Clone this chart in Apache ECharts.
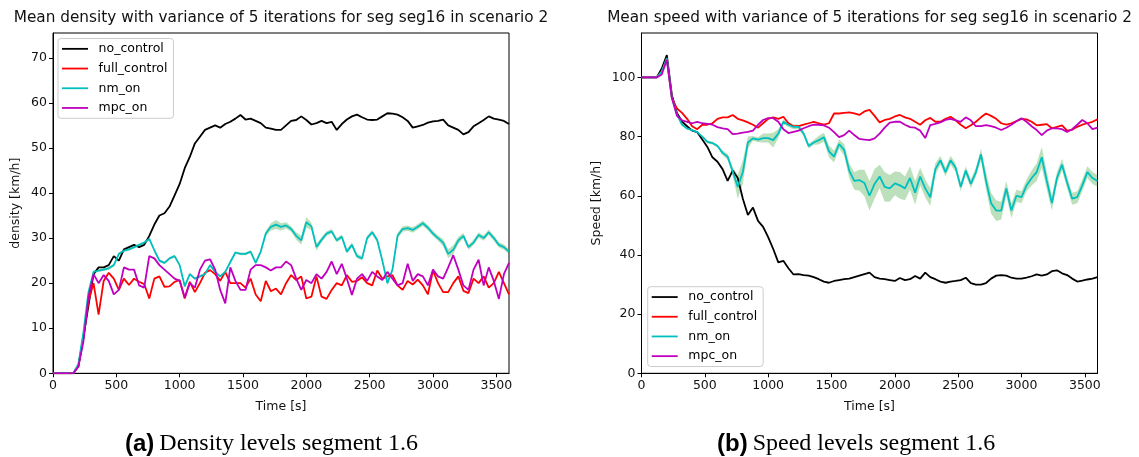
<!DOCTYPE html>
<html><head><meta charset="utf-8">
<script src="https://cdn.jsdelivr.net/npm/echarts@6/dist/echarts.min.js"></script>
<style>html,body{margin:0;padding:0;background:#fff}#c{width:1139px;height:457px}</style>
</head><body><div id="c"></div>
<script>
const TIMES = [0,40,80,120,160,200,240,280,320,360,
400,440,480,520,560,600,640,680,720,760,
800,840,880,920,960,1000,1040,1080,1120,1160,
1200,1240,1280,1320,1360,1400,1440,1480,1520,1560,
1600,1640,1680,1720,1760,1800,1840,1880,1920,1960,
2000,2040,2080,2120,2160,2200,2240,2280,2320,2360,
2400,2440,2480,2520,2560,2600,2640,2680,2720,2760,
2800,2840,2880,2920,2960,3000,3040,3080,3120,3160,
3200,3240,3280,3320,3360,3400,3440,3480,3520,3560,
3600];
const SERIES_NAMES = ['no_control','full_control','nm_on','mpc_on'];
const X_TICKS = [0,500,1000,1500,2000,2500,3000,3500];
const DEN_TICKS = [0,10,20,30,40,50,60,70];
const SPD_TICKS = [0,20,40,60,80,100];

// Density
const DEN_NO = [0,0,0,0,0,1.5,8,15,22,23.5,
23.5,24,26,25,27.5,28,28.5,28,28.5,30.5,
33,35,35.5,37,39.5,42,45.5,48,51,52.5,
54,54.5,55,54.5,55.3,55.8,56.5,57.3,56.3,56.5,
56,55.5,54.5,54.3,54,54,55,56,56.2,57,
56.2,55.2,55.5,56,55.5,55.8,54,55.3,56.3,57,
57.4,56.8,56.3,56.2,56.3,57,57.7,57.6,57.4,56.8,
56,54.5,54.8,55.1,55.6,55.9,56,56.3,55,54.5,
54,53,53.5,54.8,55.5,56.2,57,56.5,56.3,56,
55.3];
const DEN_FULL = [0,0,0,0,0,1.5,8,16,20,13,
20.5,22.3,21,18.5,21,19.6,21,20.3,19.8,16.6,
21,21.5,19.2,19.3,20.3,20.7,16.6,20.3,18,20,
22.3,22.9,22,20.5,22.5,20,20,20,19,21,
17.5,16,20.5,18.2,18.8,17.5,20,21.8,20.7,21.5,
16.6,17,21.5,17,16.5,18.5,20,19.5,21.8,20.3,
20.5,21.3,20,19.5,22.8,21,21.5,21.8,19.5,18.5,
20.5,19.7,20.8,19.5,17.5,22.8,20,18,18,20,
21.5,18.3,17.8,21,20,21.5,19,20,22.5,20,
17.5];
const DEN_NM = [0,0,0,0,0,2,9,18,22.5,22.8,
23,23.3,24,26.5,27.2,27.5,28,28.5,29,29.8,
27.3,25,24.5,25.5,26,24,19.3,22,21,21.5,
22,24,22.5,21.5,22.5,24.7,26.8,26.5,26.5,27,
24.5,27,31,32.5,33,32.5,32.8,32,30.5,29.5,
33.5,32.6,28,29.6,31,31.5,29.5,30.3,27,28.5,
26,25.5,30,31.3,29.5,25,20,23,30.5,32,
32.2,31.8,32.5,33.3,32.3,31,30,29,26.5,27.4,
29.5,30.5,28,29,30.7,30,31.3,30,28.5,28,
27];
const DEN_MPC = [0,0,0,0,0,1.5,7,17,22,20,
21.8,20.5,17.5,18.5,23.5,23,23,19.5,19,26,
25.5,24,23,22,21,20.5,16.8,20,19,23,
25,25.3,23,18.5,15.5,23.5,20.5,18.5,18.5,23,
24,24,23.5,22.8,23.5,23.5,24.8,24,21,18.5,
20.7,20,22,21,22.5,24.8,22,24.3,21,17.4,
21,22,20.5,22.5,21.5,20.7,22.5,21,19.5,20,
24.3,20.5,22,21.5,19.5,23,21.5,21,23.5,26.2,
23,19.5,18.5,23,25.2,19.5,23.5,20.5,16.5,22,
24.5];
const DEN_NM_SPREAD = [0,0,0,0,0,0.2,0.3,0.3,0.3,0.3,
0.3,0.3,0.3,0.3,0.3,0.3,0.3,0.3,0.3,0.3,
0.3,0.3,0.3,0.3,0.3,0.3,0.3,0.3,0.3,0.3,
0.3,0.3,0.3,0.3,0.3,0.3,0.3,0.3,0.3,0.3,
0.4,0.5,0.6,0.8,1,0.8,0.7,0.6,0.8,1,
1.2,0.8,0.8,0.6,0.5,0.5,0.5,0.5,0.5,0.5,
0.5,0.5,0.5,0.5,0.5,0.5,0.5,0.5,0.6,0.6,
0.6,0.6,0.6,0.6,0.6,0.6,0.6,0.8,1,1,
0.8,0.6,0.6,0.6,0.6,0.6,0.6,0.6,0.6,0.6,
0.6];

// Speed
const SPD_NO = [100,100,100,100,103,107.5,94,88,85,83.5,
82,81.5,79,76.5,73,71.5,69,65,68.5,66,
59,53.5,56,51.5,49.5,46,42,37.5,38,35.5,
33.4,33.5,33.2,33,32.5,31.8,31,30.6,31.2,31.5,
31.8,32,32.5,33,33.5,34,32.5,32,31.8,31.5,
31.2,32.2,31.5,31.8,32.9,32,34,32.5,31.8,31,
30.6,31,31.2,31.5,32.3,30.5,30,30,30.5,32,
33,33.2,33,32.3,32,32,32.3,32.8,33.4,33,
33.4,34.5,34.8,33.8,33.2,32,31,31.3,31.7,32,
32.5];
const SPD_FULL = [100,100,100,100,102,106,93,89.5,88,86,
83.5,82.5,84,84,84.5,86,86.5,86.5,87.3,86,
85.5,84.8,84,83,84.5,86,86.5,86,86.7,84.5,
83.5,83.5,84,84.5,85,84.5,84,84.5,87.8,87.8,
88,88.2,87.8,87.3,88.5,89,87,84.8,85.6,86,
86.8,87.3,86.5,86,85,84,85.5,86.3,85,85,
86,86.7,85.5,84,82.8,83.8,85,86.5,87.8,87,
86,84.5,84,84.5,85.2,86,85.8,85,83.8,84,
84.2,82.8,83.3,83.8,82,82.3,83.3,84,84.5,85,
85.8];
const SPD_NM = [100,100,100,100,102,106.5,93,87.5,84,82.7,
82.2,81.5,80,78.2,77.8,76.8,74.5,73.2,68.2,63,
68,78,79.4,79,79.5,79.5,78.8,81,85,84,
83.3,83.3,81,76.8,78,78.8,79.8,75,73.2,77.5,
75.5,68.5,65,65.3,64.3,60,64,66.5,63,62.5,
64.2,63.5,62.5,66,61,66.5,62.5,59.5,69,72,
68,72,69.5,63,68.5,64,68,74,65,57.5,
55,55,62.5,55,60,59.5,63.5,66,68,73,
65,57.5,66,70.5,64.5,59,59.5,63.5,68,66,
65];
const SPD_MPC = [100,100,100,100,101,106,93,87,85.5,85,
84.5,85,84.5,84.3,84,83.2,82.8,82.5,80.8,81,
81.3,81.6,82,84,85.6,86.2,86.2,85,82.5,81.2,
81.6,82,82.8,83.5,84,84,83.8,83,81.5,79.8,
80.5,82,80.5,79.2,79,78.8,79.4,81,83,84.7,
85,85,84,83.2,83,82,79.5,83.9,84.3,84.8,
85.6,86,85.5,85,86.5,85.5,83.5,83.5,83.9,83.5,
83,82.2,83,84,85.2,86.2,85,83.5,82.2,80.5,
82,82.8,82.8,82.5,81.6,82.5,84,85.6,84.5,82.5,
83];
const SPD_NM_SPREAD = [0,0,0,0,0.3,0.3,0.3,0.3,0.3,0.3,
0.3,0.3,0.3,0.5,0.5,0.5,0.8,1,1.5,4,
4,2,0.8,0.8,1.5,1.5,2.5,1.5,0.8,0.8,
0.8,0.8,0.8,0.8,0.8,1.5,1.5,2,2,1.5,
2,2.5,3,3.5,4.5,5,5,4,5,4.5,
4,4.5,4,4,4,3,3,3,2,1.5,
1.5,1.5,1.5,1.5,1.5,1.5,1.5,2,3,3.5,
3.5,3,2.5,2.5,2,2,2,2.5,3,3.5,
3,2.5,2,2,2,2,2,2,2,2,
2];

const COLORS = {no_control:'#000000', full_control:'#ff0000', nm_on:'#00bfbf', mpc_on:'#bf00bf'};
const FONT = 'DejaVu Sans';

function pairs(vals){ return TIMES.map((t,i)=>[t, vals[i]]); }
function lineSeries(name, vals, gi){
  return {type:'line', name, xAxisIndex:gi, yAxisIndex:gi, data:pairs(vals),
    showSymbol:false, symbol:'none', lineStyle:{width:1.8, color:COLORS[name]},
    itemStyle:{color:COLORS[name]}, z:3, silent:true};
}
function bandSeries(mean, spread, gi, id){
  return {type:'custom', name:id, xAxisIndex:gi, yAxisIndex:gi, data:[[0, mean[0]]], z:1, silent:true, clip:true,
    renderItem:function(params, api){
      const upper = TIMES.map((t,i)=>api.coord([t, mean[i] + spread[i]]));
      const lower = TIMES.map((t,i)=>api.coord([t, mean[i] - spread[i]])).reverse();
      return {type:'polygon', shape:{points: upper.concat(lower)}, style:{fill:'rgba(44,160,44,0.32)', stroke:null}};
    }};
}

const axisCommon = {
  axisLine:{show:true, onZero:false, lineStyle:{color:'#000', width:1}},
  axisTick:{show:true, inside:false, length:4, lineStyle:{color:'#000', width:1}},
  splitLine:{show:false},
  axisLabel:{color:'#111', fontFamily:FONT, fontSize:12.5, margin:6, formatter:v=>String(v)},
  nameTextStyle:{color:'#111', fontFamily:FONT, fontSize:12.5}
};
function xAxis(gi){
  return Object.assign({}, axisCommon, {type:'value', gridIndex:gi, min:0, max:3600,
    name:'Time [s]', nameLocation:'middle', nameGap:27,
    axisTick:Object.assign({}, axisCommon.axisTick, {customValues:X_TICKS}),
    axisLabel:Object.assign({}, axisCommon.axisLabel, {customValues:X_TICKS})});
}
function yAxis(gi, max, ticks, name, gap){
  return Object.assign({}, axisCommon, {type:'value', gridIndex:gi, min:0, max:max,
    name:name, nameLocation:'middle', nameGap:gap,
    axisTick:Object.assign({}, axisCommon.axisTick, {customValues:ticks}),
    axisLabel:Object.assign({}, axisCommon.axisLabel, {customValues:ticks})});
}
function legend(left, top){
  return {show:true, orient:'vertical', left:left, top:top, data:SERIES_NAMES,
    icon:'rect', itemWidth:26, itemHeight:1.8, itemGap:0,
    backgroundColor:'rgba(255,255,255,0.8)', borderColor:'#cccccc', borderWidth:1, borderRadius:3,
    padding:[0.5,6,0.5,4], selectedMode:false,
    textStyle:{fontFamily:FONT, fontSize:12.5, color:'#000', lineHeight:19.7, padding:[0,0,0,5.6]}};
}
const captionRich = {
  b:{fontFamily:'Liberation Sans', fontWeight:'bold', fontSize:24, color:'#000'},
  r:{fontFamily:'Liberation Serif', fontWeight:'normal', fontSize:24, color:'#000'}
};

const chart = echarts.init(document.getElementById('c'), null, {renderer:'canvas'});
chart.setOption({
  animation:false,
  backgroundColor:'#fff',
  title:[
    {text:'Mean density with variance of 5 iterations for seg seg16 in scenario 2', left:281, top:11, textAlign:'center', padding:0,
     textStyle:{fontFamily:FONT, fontSize:15.3, fontWeight:'normal', color:'#111'}},
    {text:'Mean speed with variance of 5 iterations for seg seg16 in scenario 2', left:869.5, top:11, textAlign:'center', padding:0,
     textStyle:{fontFamily:FONT, fontSize:15.3, fontWeight:'normal', color:'#111'}},
    {text:'{b|(a)} {r|Density levels segment 1.6}', left:125, top:432, padding:0,
     textStyle:{fontWeight:'normal', rich:captionRich}},
    {text:'{b|(b)} {r|Speed levels segment 1.6}', left:717, top:432, padding:0,
     textStyle:{fontWeight:'normal', rich:captionRich}}
  ],
  grid:[
    {left:53, top:33, width:456, height:340.3, show:true, borderColor:'#000', borderWidth:1, backgroundColor:'transparent'},
    {left:641.5, top:33, width:456, height:340.3, show:true, borderColor:'#000', borderWidth:1, backgroundColor:'transparent'}
  ],
  xAxis:[xAxis(0), xAxis(1)],
  yAxis:[yAxis(0, 75.5, DEN_TICKS, 'density [km/h]', 31), yAxis(1, 115, SPD_TICKS, 'Speed [km/h]', 38)],
  legend:[legend(58, 38.5), legend(647.7, 286.7)],
  series:[].concat(
    [bandSeries(DEN_NM, DEN_NM_SPREAD, 0, 'denband')],
    [lineSeries('no_control', DEN_NO, 0), lineSeries('full_control', DEN_FULL, 0),
     lineSeries('nm_on', DEN_NM, 0), lineSeries('mpc_on', DEN_MPC, 0)],
    [bandSeries(SPD_NM, SPD_NM_SPREAD, 1, 'spdband')],
    [lineSeries('no_control', SPD_NO, 1), lineSeries('full_control', SPD_FULL, 1),
     lineSeries('nm_on', SPD_NM, 1), lineSeries('mpc_on', SPD_MPC, 1)]
  )
});
</script></body></html>
